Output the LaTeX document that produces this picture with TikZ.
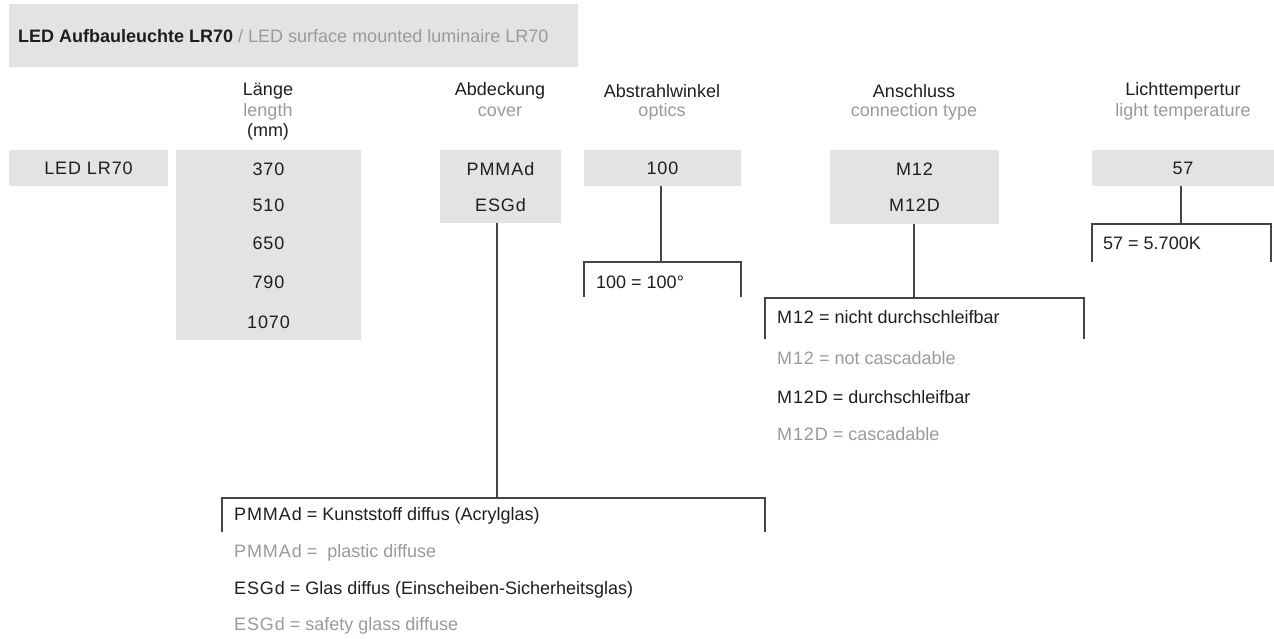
\documentclass[tikz,border=0pt]{standalone}
\usepackage{fontspec}
\setmainfont{Liberation Sans}
\newfontfamily\codefont[LetterSpace=5]{Liberation Sans}
\definecolor{boxgray}{HTML}{E3E3E3}
\definecolor{txtgray}{HTML}{9A9A9A}
\definecolor{txtblack}{HTML}{1E1E1E}
\definecolor{linegray}{HTML}{444444}
\begin{document}
\begin{tikzpicture}[x=1pt,y=-1pt,
  every node/.style={font=\fontsize{18}{21}\selectfont, text=txtblack, inner sep=0pt},
  gbox/.style={fill=boxgray, draw=none, rectangle},
  head/.style={anchor=center, text=txtblack},
  sub/.style={anchor=center, text=txtgray},
  val/.style={anchor=center, font=\fontsize{18}{21}\selectfont\codefont},
  desc/.style={anchor=west},
  descgray/.style={anchor=west, text=txtgray},
  conn/.style={draw=linegray, line width=1.1pt},
  bracket/.style={draw=linegray, line width=1.1pt}
]
\useasboundingbox (0,0) rectangle (1274,638);

% title band
\node[gbox, minimum width=569, minimum height=63, anchor=north west] (title) at (9,4) {};
\node[anchor=west] (titletext) at (18,36) {\textbf{LED Aufbauleuchte LR70} \textcolor{txtgray}{/ LED surface mounted luminaire LR70}};

% headers
\node[head] (hlen) at (268,91) {Länge};
\node[sub]  (hlen2) at (268,112) {length};
\node[head] (hlen3) at (268,132) {(mm)};
\node[head] (hcov) at (500,91) {Abdeckung};
\node[sub]  (hcov2) at (500,112) {cover};
\node[head] (hopt) at (662,91) {Abstrahlwinkel};
\node[sub]  (hopt2) at (662,112) {optics};
\node[head] (hcon) at (914,91) {Anschluss};
\node[sub]  (hcon2) at (914,112) {connection type};
\node[head] (hlig) at (1183,91) {Lichttempertur};
\node[sub]  (hlig2) at (1183,112) {light temperature};

% boxes
\node[gbox, minimum width=159, minimum height=36] (led) at (88.5,168) {};
\node[val] (ledt) at (88.5,168) {LED LR70};

\node[gbox, minimum width=185, minimum height=190] (len) at (268.5,245) {};
\node[val] (l1) at (268.5,169) {370};
\node[val] (l2) at (268.5,205) {510};
\node[val] (l3) at (268.5,243) {650};
\node[val] (l4) at (268.5,282) {790};
\node[val] (l5) at (268.5,322) {1070};

\node[gbox, minimum width=121, minimum height=73] (cov) at (500.5,186.5) {};
\node[val] (c1) at (500.5,169) {PMMAd};
\node[val] (c2) at (500.5,205) {ESGd};

\node[gbox, minimum width=157, minimum height=36] (opt) at (662.5,168) {};
\node[val] (o1) at (662.5,168) {100};

\node[gbox, minimum width=169, minimum height=74] (con) at (914.5,187) {};
\node[val] (m1) at (914.5,169) {M12};
\node[val] (m2) at (914.5,205) {M12D};

\node[gbox, minimum width=182, minimum height=36] (lig) at (1183,168) {};
\node[val] (t1) at (1183,168) {57};

% optics bracket
\coordinate (optT) at (661,262);
\draw[conn] (opt.south -| optT) -- (optT);
\draw[bracket] (584,297) -- (584,262) -- (741,262) -- (741,297);
\node[desc] (optd) at (596,282) {100 = 100°};

% light bracket
\coordinate (ligT) at (1181,224);
\draw[conn] (lig.south -| ligT) -- (ligT);
\draw[bracket] (1092,262) -- (1092,224) -- (1271,224) -- (1271,262);
\node[desc] (ligd) at (1103,243) {57 = 5.700K};

% connection bracket
\coordinate (conT) at (914,298);
\draw[conn] (con.south -| conT) -- (conT);
\draw[bracket] (765,339) -- (765,298) -- (1084,298) -- (1084,339);
\node[desc] (cond1) at (777,317) {{\codefont M12} = nicht durchschleifbar};
\node[descgray] (cond2) at (777,358) {{\codefont M12} = not cascadable};
\node[desc] (cond3) at (777,397) {{\codefont M12D} = durchschleifbar};
\node[descgray] (cond4) at (777,434) {{\codefont M12D} = cascadable};

% cover bracket
\coordinate (covT) at (497,498);
\draw[conn] (cov.south -| covT) -- (covT);
\draw[bracket] (222,532) -- (222,498) -- (765,498) -- (765,532);
\node[desc] (covd1) at (234,516) {{\codefont PMMAd} = Kunststoff diffus (Acrylglas)};
\node[descgray] (covd2) at (234,553) {{\codefont PMMAd} = \ plastic diffuse};
\node[desc] (covd3) at (234,590) {{\codefont ESGd} = Glas diffus (Einscheiben-Sicherheitsglas)};
\node[descgray] (covd4) at (234,626) {{\codefont ESGd} = safety glass diffuse};
\end{tikzpicture}
\end{document}
